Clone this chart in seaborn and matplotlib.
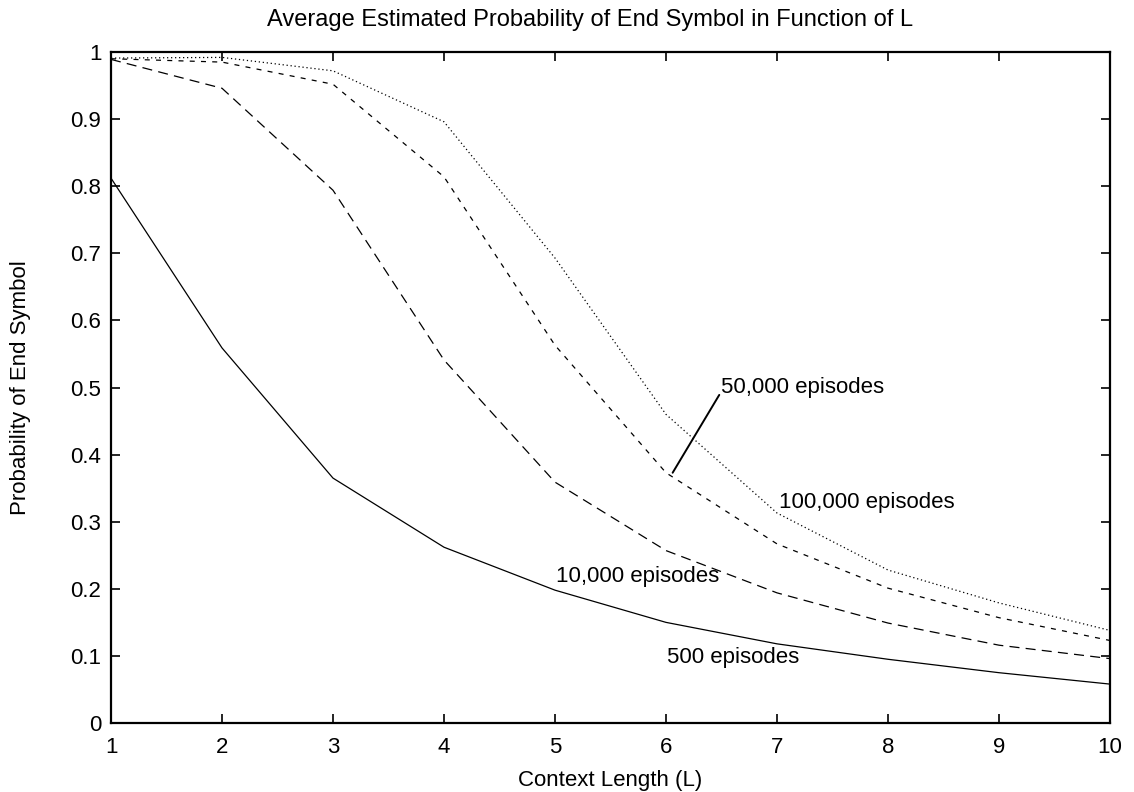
import numpy as np
import pandas as pd
import matplotlib
matplotlib.use("Agg")
import matplotlib.pyplot as plt
import seaborn as sns

# Context lengths and average estimated end-symbol probabilities per training budget
context_length = [1, 2, 3, 4, 5, 6, 7, 8, 9, 10]
p_500 = [0.812, 0.559, 0.365, 0.262, 0.198, 0.150, 0.118, 0.095, 0.075, 0.058]
p_10000 = [0.989, 0.946, 0.794, 0.541, 0.359, 0.257, 0.194, 0.149, 0.116, 0.096]
p_50000 = [0.990, 0.985, 0.952, 0.814, 0.563, 0.373, 0.267, 0.201, 0.157, 0.123]
p_100000 = [0.991, 0.992, 0.972, 0.896, 0.693, 0.460, 0.313, 0.228, 0.179, 0.138]
series_names = ["500 episodes", "10,000 episodes", "50,000 episodes", "100,000 episodes"]

df = pd.DataFrame({
    "L": context_length * 4,
    "p": p_500 + p_10000 + p_50000 + p_100000,
    "series": [s for s in series_names for _ in context_length],
})

sns.set_style("ticks")
plt.rcParams["font.family"] = ["Liberation Sans", "DejaVu Sans"]
plt.rcParams["text.color"] = "black"
plt.rcParams["axes.labelcolor"] = "black"

fig = plt.figure(figsize=(11.34, 7.92), dpi=100)
ax = fig.add_axes([0.0979, 0.0871, 0.8809, 0.8472])

dashes = {
    "500 episodes": "",
    "10,000 episodes": (8, 5),
    "50,000 episodes": (4, 5),
    "100,000 episodes": (1, 2.2),
}
sns.lineplot(data=df, x="L", y="p", hue="series", style="series",
             palette=["black"] * 4, dashes=dashes, linewidth=0.9,
             legend=False, ax=ax)

ax.set_xlim(1, 10)
ax.set_ylim(0, 1)
ax.set_xticks(context_length)
ax.set_xticklabels([str(v) for v in context_length])
yt = [0, 0.1, 0.2, 0.3, 0.4, 0.5, 0.6, 0.7, 0.8, 0.9, 1]
ax.set_yticks(yt)
ax.set_yticklabels(["0"] + [f"{v:g}" for v in yt[1:-1]] + ["1"])

for sp in ax.spines.values():
    sp.set_visible(True)
    sp.set_linewidth(1.6)
    sp.set_color("black")

fs = 16
ax.tick_params(direction="in", length=6.5, width=1.2, top=True, right=True,
               labelsize=fs, colors="black")
ax.tick_params(axis="x", pad=10)
ax.tick_params(axis="y", pad=7)

ax.set_title("Average Estimated Probability of End Symbol in Function of L",
             fontsize=17, pad=18.5, x=0.48)
ax.set_xlabel("Context Length (L)", fontsize=fs, labelpad=8.5)
ax.set_ylabel("Probability of End Symbol", fontsize=fs, labelpad=28)

# Curve labels
ax.text(6.50, 0.50, "50,000 episodes", fontsize=fs, va="center", ha="left")
ax.text(7.02, 0.328, "100,000 episodes", fontsize=fs, va="center", ha="left")
ax.text(5.01, 0.218, "10,000 episodes", fontsize=fs, va="center", ha="left")
ax.text(6.01, 0.098, "500 episodes", fontsize=fs, va="center", ha="left")
ax.plot([6.06, 6.48], [0.373, 0.489], color="black", linewidth=1.4)

fig.savefig("out.png", dpi=100)
